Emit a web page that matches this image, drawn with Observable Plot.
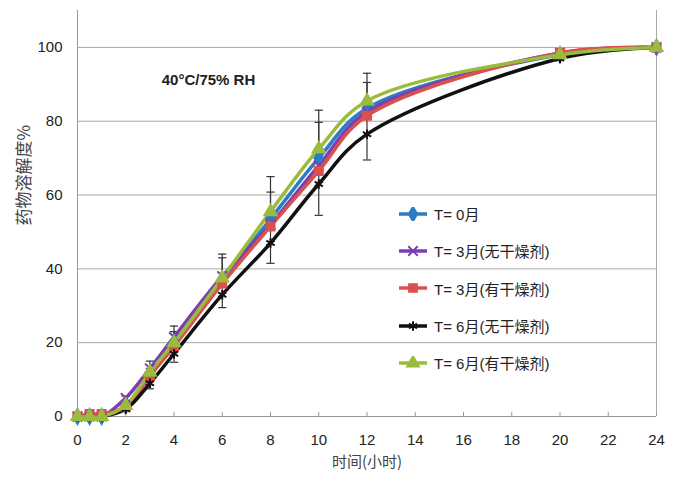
<!DOCTYPE html>
<html><head><meta charset="utf-8">
<script src="https://cdn.jsdelivr.net/npm/d3@7"></script>
<script src="https://cdn.jsdelivr.net/npm/@observablehq/plot@0.6"></script>
<style>
body{margin:0;background:#fff;}
#wrap{position:relative;width:678px;height:479px;font-family:"Liberation Sans",Arial,"Noto Sans CJK SC",sans-serif;}
#legend{position:absolute;left:398px;top:195px;}
.row{display:flex;align-items:center;height:37.3px;font-size:15px;color:#222;}
.row svg{margin-right:6px;}
</style></head>
<body><div id="wrap"><div id="chart"></div><div id="legend"></div></div>
<script>
const times = [0, 0.5, 1, 2, 3, 4, 6, 8, 10, 12, 20, 24];
const seriesNames = ["T= 0月", "T= 3月(无干燥剂)", "T= 3月(有干燥剂)", "T= 6月(无干燥剂)", "T= 6月(有干燥剂)"];
const t0 =      [0, 0, 0, 3, 11, 20, 37, 53.5, 70, 83.5, 98, 100];
const t3No =    [0, 0, 0, 5, 13, 21.5, 38, 52, 68, 82.5, 98.5, 100];
const t3Yes =   [0, 0.7, 0.7, 2.5, 11, 19, 36, 51.5, 66.5, 81.5, 98.5, 100];
const t6No =    [0, 0, 0, 2, 9, 17, 33, 47, 63, 76.5, 97, 100];
const t6Yes =   [0, 0, 0, 3, 12, 20, 37.5, 55.5, 72.5, 85.5, 98, 100];
const t6NoErr = [0, 0, 0, 0.5, 1.5, 2.3, 3.5, 5.5, 8.5, 7, 0.5, 0.5];
const t6YesErrUp = [0, 0, 0, 2.5, 3, 4.5, 6.5, 9.5, 10.5, 7.5, 0.5, 0.5];
const t0ErrUp = [0, 0, 0, 1, 2, 3, 6, 7.3, 9.7, 7, 0.5, 0.5];
const colors = ["#2b7cc4", "#7a3fb0", "#d9504c", "#111111", "#9bbb3f"];
const symbols = ["diamond", "times", "square", "asterisk", "triangle"];
const xTicks = [0, 2, 4, 6, 8, 10, 12, 14, 16, 18, 20, 22, 24];
const yTicks = [0, 20, 40, 60, 80, 100];
const gridTicks = [20, 40, 60, 80, 100];

const allSeries = [t0, t3No, t3Yes, t6No, t6Yes];
const rows = allSeries.flatMap((vals, i) => vals.map((v, j) => ({t: times[j], v, s: seriesNames[i], i})));
const errRows = [];
times.forEach((t, j) => {
  if (t6NoErr[j] > 0) errRows.push({t, lo: t6No[j] - t6NoErr[j], hi: t6No[j] + t6NoErr[j], both: true});
  if (t6YesErrUp[j] > 0) errRows.push({t, lo: t6Yes[j], hi: t6Yes[j] + t6YesErrUp[j], both: false});
  if (t0ErrUp[j] > 0) errRows.push({t, lo: t0[j], hi: t0[j] + t0ErrUp[j], both: false});
});
const caps = errRows.flatMap(e => e.both ? [{t: e.t, y: e.lo}, {t: e.t, y: e.hi}] : [{t: e.t, y: e.hi}]);
const capW = 0.17;

const chart = Plot.plot({
  width: 678, height: 479,
  marginLeft: 77, marginRight: 22, marginTop: 10, marginBottom: 63,
  style: {fontFamily: '"Liberation Sans", Arial, sans-serif', background: "#fff"},
  x: {domain: [0, 24]},
  y: {domain: [0, 110]},
  color: {domain: seriesNames, range: colors},
  symbol: {domain: seriesNames, range: symbols},
  marks: [
    Plot.ruleY(gridTicks, {stroke: "#aaaaaa", strokeWidth: 1}),
    Plot.ruleX([24], {stroke: "#aaaaaa", strokeWidth: 1}),
    Plot.ruleX([0], {stroke: "#999999", strokeWidth: 1}),
    Plot.ruleY([0], {stroke: "#999999", strokeWidth: 1}),
    Plot.ruleX(xTicks, {y1: 0, y2: 1.1, stroke: "#999999"}),
    Plot.axisX({ticks: xTicks, tickSize: 0, tickPadding: 18, fontSize: 15, label: null, tickFormat: d => d, fill: "#222"}),
    Plot.axisY({ticks: yTicks, tickSize: 0, tickPadding: 15, fontSize: 15, label: null, fill: "#222"}),
    Plot.ruleX(errRows, {x: "t", y1: "lo", y2: "hi", stroke: "#333", strokeWidth: 1.2}),
    Plot.link(caps, {x1: d => d.t - capW, x2: d => d.t + capW, y1: "y", y2: "y", stroke: "#333", strokeWidth: 1.2}),
    Plot.line(rows, {x: "t", y: "v", z: "s", stroke: "s", strokeWidth: 3.5, curve: "catmull-rom"}),
    Plot.dot(rows, {x: "t", y: "v", symbol: "s", fill: "s", stroke: "s", strokeWidth: 2, r: 4.5}),
    Plot.text(["40°C/75% RH"], {frameAnchor: "top-left", dx: 131, dy: 64, fontSize: 15, fontWeight: "bold", fill: "#222", textAnchor: "middle"}),
    Plot.text(["时间(小时)"], {frameAnchor: "bottom", dy: 50, fontSize: 15, fill: "#444", fontFamily: '"Noto Sans CJK SC", sans-serif'}),
    Plot.text(["药物溶解度%"], {frameAnchor: "left", rotate: -90, dx: -53, dy: 12, fontSize: 17, fill: "#444", fontFamily: '"Noto Sans CJK SC", sans-serif'})
  ]
});
document.getElementById("chart").appendChild(chart);

// legend
const leg = document.getElementById("legend");
const symGen = d3.symbol().size(60);
const d3syms = {diamond: d3.symbolDiamond, times: d3.symbolTimes, square: d3.symbolSquare, asterisk: d3.symbolAsterisk, triangle: d3.symbolTriangle};
seriesNames.forEach((name, i) => {
  const row = document.createElement("div");
  row.className = "row";
  const filled = symbols[i] === "diamond" || symbols[i] === "square" || symbols[i] === "triangle";
  const path = symGen.type(d3syms[symbols[i]])();
  row.innerHTML = `<svg width="30" height="14"><line x1="1" x2="29" y1="7" y2="7" stroke="${colors[i]}" stroke-width="3.5"/>` +
    `<path transform="translate(15,7)" d="${path}" fill="${filled ? colors[i] : "none"}" stroke="${colors[i]}" stroke-width="2"/></svg><span>${name}</span>`;
  leg.appendChild(row);
});
</script></body></html>
